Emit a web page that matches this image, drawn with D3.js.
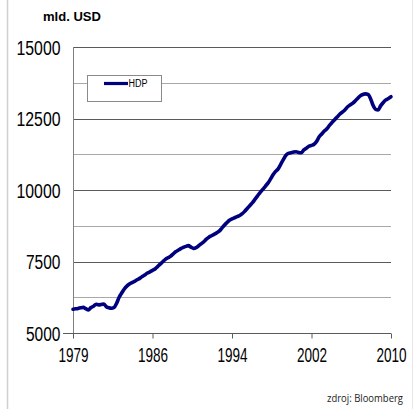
<!DOCTYPE html>
<html>
<head>
<meta charset="utf-8">
<script src="https://cdn.jsdelivr.net/npm/d3@7"></script>
<style>
  html, body { margin: 0; padding: 0; background: #fff; }
  svg { display: block; }
</style>
</head>
<body>
<svg id="chart" width="419" height="409"></svg>
<script>
// US real GDP, quarterly, 1979 Q1 – 2010 Q1 (bn USD)
const seriesName = "HDP";
const unitLabel = "mld. USD";
const sourceLabel = "zdroj: Bloomberg";
const gdp = [
  5830, 5845, 5860, 5880, 5895, 5850, 5805, 5890, 5935, 6005,
  5985, 5995, 6010, 5920, 5880, 5865, 5890, 6040, 6250, 6400,
  6540, 6640, 6710, 6760, 6805, 6860, 6910, 6975, 7030, 7095,
  7140, 7190, 7240, 7320, 7410, 7490, 7575, 7630, 7680, 7760,
  7840, 7895, 7950, 7995, 8030, 8055, 8000, 7960, 7985, 8050,
  8120, 8190, 8280, 8350, 8400, 8450, 8500, 8560, 8660, 8770,
  8860, 8940, 8990, 9030, 9070, 9110, 9170, 9260, 9360, 9460,
  9560, 9680, 9800, 9920, 10020, 10130, 10240, 10380, 10530, 10650,
  10740, 10900, 11060, 11210, 11280, 11300, 11330, 11340, 11310, 11300,
  11400, 11460, 11530, 11560, 11600, 11700, 11860, 11960, 12060, 12140,
  12260, 12360, 12460, 12550, 12650, 12720, 12800, 12900, 12970, 13030,
  13110, 13200, 13290, 13340, 13360, 13340, 13200, 12960, 12820, 12800,
  12950, 13060, 13150, 13200, 13260
];
// category axis labels, one every 31 quarters
const xTickIndex = [0, 31, 62, 93, 124];
const xTickLabels = ["1979", "1986", "1994", "2002", "2010"];
const yTicks = [5000, 7500, 10000, 12500, 15000];
const yGrid = [6250, 7500, 8750, 10000, 11250, 12500, 13750, 15000];

const svg = d3.select("#chart");
const plot = { left: 73, right: 391, top: 47, bottom: 333 };

const x = d3.scaleLinear().domain([0, gdp.length - 1]).range([plot.left, plot.right]);
const y = d3.scaleLinear().domain([5000, 15000]).range([plot.bottom, plot.top]);

// slide frame edges
svg.append("line").attr("x1", 7.5).attr("x2", 7.5).attr("y1", 0).attr("y2", 409)
  .attr("stroke", "#d0d0d0").attr("stroke-width", 1.5);
svg.append("line").attr("x1", 412.5).attr("x2", 412.5).attr("y1", 0).attr("y2", 409)
  .attr("stroke", "#e6e6e6").attr("stroke-width", 1);

// horizontal gridlines: labelled values darker
svg.append("g").selectAll("line").data(yGrid).join("line")
  .attr("x1", plot.left).attr("x2", plot.right)
  .attr("y1", d => Math.round(y(d)) + 0.5).attr("y2", d => Math.round(y(d)) + 0.5)
  .attr("stroke", d => yTicks.includes(d) ? "#5a5a5a" : "#a8a8a8")
  .attr("stroke-width", 1);

// y axis
const yAxis = svg.append("g")
  .attr("transform", `translate(${plot.left + 0.5},0)`)
  .call(d3.axisLeft(y).tickValues(yTicks).tickSize(0).tickPadding(13).tickFormat(d3.format("d")));
yAxis.select(".domain").attr("stroke", "#808080").attr("d", `M0,${plot.top}V${plot.bottom}`);
yAxis.selectAll("text")
  .attr("font-family", "Liberation Sans, Arial, sans-serif")
  .attr("font-size", 20).attr("fill", "#000")
  .attr("dy", "0.36em")
  .attr("textLength", d => String(d).length === 5 ? 44 : 34.5)
  .attr("lengthAdjust", "spacingAndGlyphs");

// x axis: condensed year labels
const xAxis = svg.append("g")
  .attr("transform", `translate(0,${plot.bottom + 0.5})`)
  .call(d3.axisBottom(x).tickValues(xTickIndex).tickSize(5).tickPadding(9)
    .tickFormat((d, i) => xTickLabels[i]));
xAxis.select(".domain").attr("stroke", "#5a5a5a").attr("d", `M${plot.left - 10},0H${plot.right}`);
xAxis.selectAll(".tick line").attr("stroke", "#5a5a5a");
xAxis.selectAll("text")
  .attr("font-family", "Liberation Sans, Arial, sans-serif")
  .attr("font-size", 21).attr("fill", "#000")
  .attr("transform", "scale(0.645,1)");

// GDP line
const line = d3.line().x((d, i) => x(i)).y(d => y(d)).curve(d3.curveMonotoneX);
svg.append("path").datum(gdp)
  .attr("d", line)
  .attr("fill", "none")
  .attr("stroke", "#00007f")
  .attr("stroke-width", 3.6)
  .attr("stroke-linejoin", "round")
  .attr("stroke-linecap", "round");

// legend
const lg = svg.append("g");
lg.append("rect").attr("x", 87.5).attr("y", 75.5).attr("width", 74).attr("height", 26)
  .attr("fill", "#fff").attr("stroke", "#8a8a8a").attr("stroke-width", 1);
lg.append("line").attr("x1", 104).attr("x2", 128).attr("y1", 83.5).attr("y2", 83.5)
  .attr("stroke", "#00007f").attr("stroke-width", 3.2);
lg.append("text").attr("x", 128.5).attr("y", 87)
  .attr("font-family", "Liberation Sans, Arial, sans-serif")
  .attr("font-size", 10).attr("fill", "#000")
  .attr("textLength", 19).attr("lengthAdjust", "spacingAndGlyphs")
  .text(seriesName);

// unit title
svg.append("text").attr("x", 43).attr("y", 21)
  .attr("font-family", "Liberation Sans, Arial, sans-serif")
  .attr("font-weight", "bold").attr("font-size", 13.5).attr("fill", "#000")
  .attr("textLength", 58).attr("lengthAdjust", "spacingAndGlyphs")
  .text(unitLabel);

// source note
svg.append("text").attr("x", 327).attr("y", 402)
  .attr("font-family", "Open Sans, Liberation Sans, sans-serif")
  .attr("font-size", 10.5).attr("fill", "#222")
  .attr("textLength", 76).attr("lengthAdjust", "spacingAndGlyphs")
  .text(sourceLabel);
</script>
</body>
</html>
